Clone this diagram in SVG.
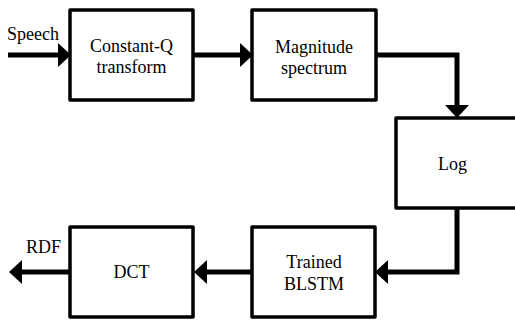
<svg xmlns="http://www.w3.org/2000/svg" width="515" height="320" viewBox="0 0 515 320">
  <style>
    .box { fill: #ffffff; stroke: #000000; stroke-width: 3.5; stroke-linejoin: round; }
    .wire { fill: none; stroke: #000000; stroke-width: 5; stroke-linecap: butt; stroke-linejoin: miter; }
    .lbl { font-size: 18px; fill: #000000; }
    .mid { text-anchor: middle; }
  </style>
  <defs>
    <marker id="head" markerUnits="userSpaceOnUse" viewBox="0 -13 14 26" markerWidth="14" markerHeight="26" refX="0" refY="0" orient="auto" overflow="visible">
      <path d="M0,-12 L13,0 L0,12 Z" fill="#000000"/>
    </marker>
  </defs>

  <rect width="515" height="320" fill="#ffffff"/>

  <g font-family="'Liberation Serif', 'DejaVu Serif', serif">
  <!-- processing blocks -->
  <g id="cqt">
    <rect class="box" x="70" y="10" width="123" height="90"/>
    <text class="lbl mid" x="131.5" y="52">Constant-Q</text>
    <text class="lbl mid" x="131.5" y="73">transform</text>
  </g>
  <g id="magnitude">
    <rect class="box" x="252" y="10" width="124" height="90"/>
    <text class="lbl mid" x="314" y="53">Magnitude</text>
    <text class="lbl mid" x="314" y="74">spectrum</text>
  </g>
  <g id="log">
    <rect class="box" x="396" y="118" width="130" height="90"/>
    <text class="lbl mid" x="452.5" y="170">Log</text>
  </g>
  <g id="blstm">
    <rect class="box" x="252" y="227" width="123" height="90"/>
    <text class="lbl mid" x="314" y="268">Trained</text>
    <text class="lbl mid" x="314" y="290">BLSTM</text>
  </g>
  <g id="dct">
    <rect class="box" x="70" y="227" width="123" height="90"/>
    <text class="lbl mid" x="131.5" y="278">DCT</text>
  </g>

  <!-- signal flow -->
  <g id="connectors">
    <path class="wire" d="M8,55 H58" stroke-linecap="round" marker-end="url(#head)"/>
    <path class="wire" d="M193,55 H240" marker-end="url(#head)"/>
    <path class="wire" d="M376,55 H457 V105" marker-end="url(#head)"/>
    <path class="wire" d="M457,208 V272 H388" marker-end="url(#head)"/>
    <path class="wire" d="M252,272 H207" marker-end="url(#head)"/>
    <path class="wire" d="M70,272 H22" marker-end="url(#head)"/>
  </g>

  <!-- input / output labels -->
  <text class="lbl" x="7" y="40">Speech</text>
  <text class="lbl" x="26" y="253">RDF</text>
  </g>
</svg>
